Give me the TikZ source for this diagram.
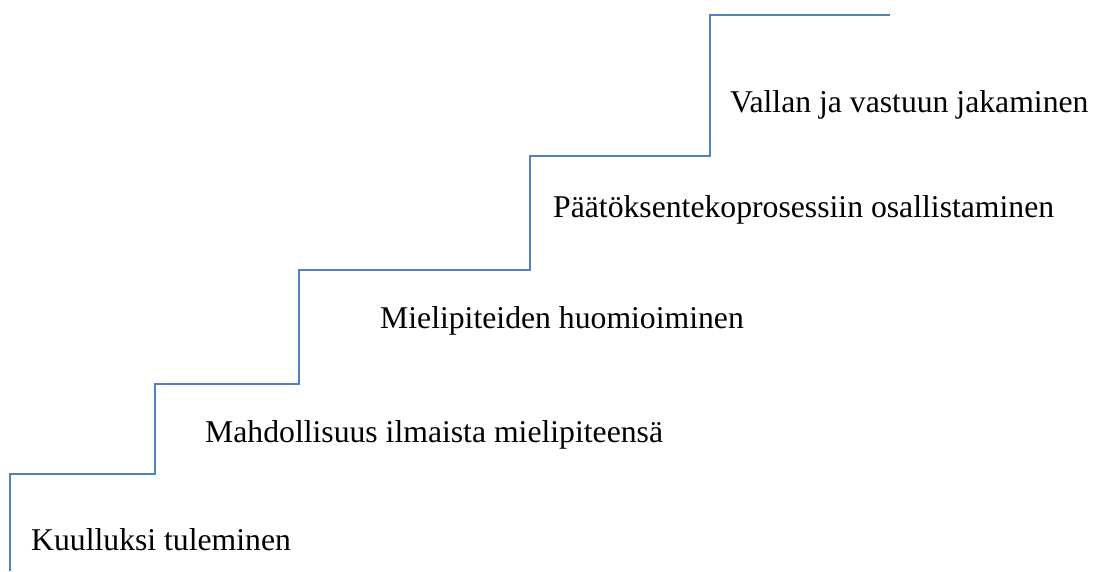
\documentclass[tikz,border=0pt]{standalone}
\usepackage{fontspec}
\setmainfont{Liberation Serif}
\definecolor{stairblue}{HTML}{4F81BD}
\tikzset{
  stairline/.style={draw=stairblue,line width=2pt},
  stairlabel/.style={anchor=base west,inner sep=0pt,font=\fontsize{31.7}{38}\selectfont}
}
\begin{document}
\begin{tikzpicture}[x=1pt,y=1pt]
    \useasboundingbox (0,0) rectangle (1095,571);
    % corners of the stairs
    \coordinate (s0) at (10,0);
    \coordinate (s1) at (10,97);
    \coordinate (s2) at (155,97);
    \coordinate (s3) at (155,187);
    \coordinate (s4) at (299,187);
    \coordinate (s5) at (299,301);
    \coordinate (s6) at (530,301);
    \coordinate (s7) at (530,415);
    \coordinate (s8) at (710,415);
    \coordinate (s9) at (710,556);
    \coordinate (s10) at (890,556);

    % stairs
    \path[stairline] (s0) -- (s1) -- (s2) -- (s3) -- (s4) -- (s5) -- (s6) -- (s7) -- (s8) -- (s9) -- (s10);

    % steps
    \node[stairlabel] (step1) at (31,21) {Kuulluksi tuleminen};
    \node[stairlabel] (step2) at (205,129) {Mahdollisuus ilmaista mielipiteensä};
    \node[stairlabel] (step3) at (380,242) {Mielipiteiden huomioiminen};
    \node[stairlabel] (step4) at (553,353) {Päätöksentekoprosessiin osallistaminen};
    \node[stairlabel] (step5) at (730,458) {Vallan ja vastuun jakaminen};
\end{tikzpicture}
\end{document}
